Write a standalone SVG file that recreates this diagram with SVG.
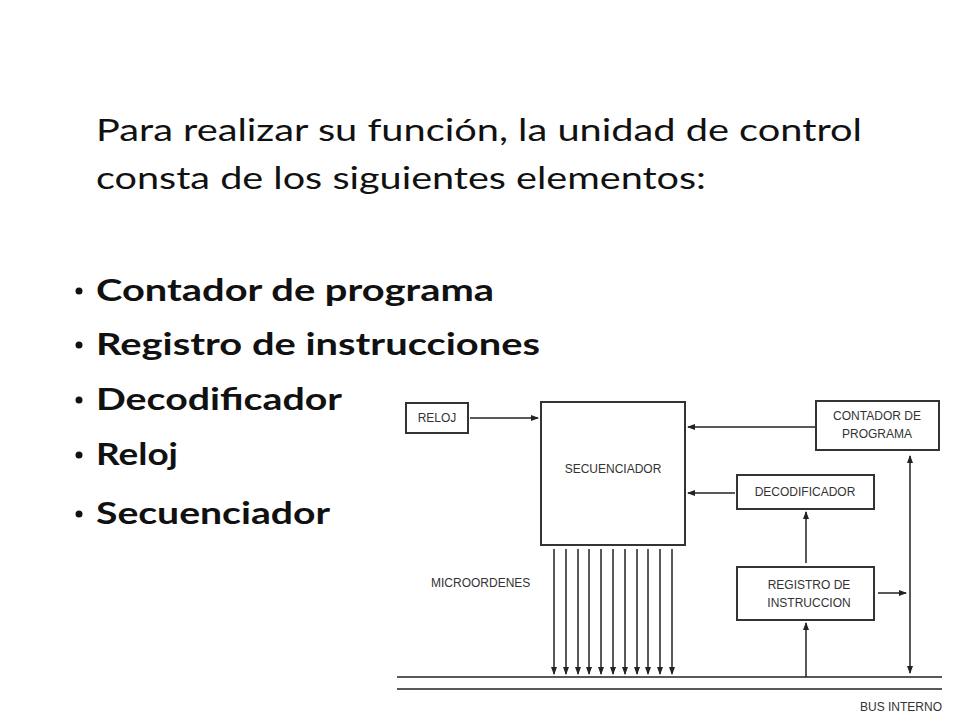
<svg xmlns="http://www.w3.org/2000/svg" width="960" height="720" viewBox="0 0 960 720">
<defs>
<marker id="a" markerWidth="8" markerHeight="8" refX="7" refY="4" orient="auto" markerUnits="userSpaceOnUse"><path d="M0,1 L8,4 L0,7 Z" fill="#222"/></marker>
<marker id="s" markerWidth="8" markerHeight="8" refX="1" refY="4" orient="auto" markerUnits="userSpaceOnUse"><path d="M8,1 L0,4 L8,7 Z" fill="#222"/></marker>
</defs>
<style>
.t{font-family:Lato,"Liberation Sans",sans-serif;font-size:30px;fill:#111}
.b{font-family:Lato,"Liberation Sans",sans-serif;font-size:30px;font-weight:bold;fill:#111}
.d{font-family:"Liberation Sans",Arial,sans-serif;font-size:12px;fill:#333}
.box{fill:#fff;stroke:#333;stroke-width:2}
.c line{stroke:#222;stroke-width:1.5}
</style>
<rect width="960" height="720" fill="#fff"/>
<text class="t" x="96" y="141" textLength="766" lengthAdjust="spacingAndGlyphs">Para realizar su función, la unidad de control</text>
<text class="t" x="96" y="189" textLength="610" lengthAdjust="spacingAndGlyphs">consta de los siguientes elementos:</text>
<g fill="#111">
<circle cx="79" cy="291" r="3.5"/><circle cx="79" cy="345" r="3.5"/><circle cx="79" cy="400" r="3.5"/><circle cx="79" cy="455" r="3.5"/><circle cx="79" cy="514" r="3.5"/>
</g>
<text class="b" x="96" y="301" textLength="398" lengthAdjust="spacingAndGlyphs">Contador de programa</text>
<text class="b" x="96" y="355" textLength="444" lengthAdjust="spacingAndGlyphs">Registro de instrucciones</text>
<text class="b" x="96" y="410" textLength="246" lengthAdjust="spacingAndGlyphs">Decodificador</text>
<text class="b" x="96" y="465" textLength="82" lengthAdjust="spacingAndGlyphs">Reloj</text>
<text class="b" x="96" y="524" textLength="234" lengthAdjust="spacingAndGlyphs">Secuenciador</text>
<g id="reloj"><rect class="box" x="406" y="403" width="62" height="30"/><text class="d" x="437" y="422" text-anchor="middle">RELOJ</text></g>
<g id="secuenciador"><rect class="box" x="541" y="402" width="144" height="143"/><text class="d" x="613" y="473" text-anchor="middle">SECUENCIADOR</text></g>
<g id="contador"><rect class="box" x="816" y="401" width="123" height="49"/><text class="d" x="877" y="420" text-anchor="middle">CONTADOR DE</text><text class="d" x="877" y="438" text-anchor="middle">PROGRAMA</text></g>
<g id="decodificador"><rect class="box" x="737" y="475" width="137" height="34"/><text class="d" x="805" y="496" text-anchor="middle">DECODIFICADOR</text></g>
<g id="registro"><rect class="box" x="737" y="567" width="137" height="53"/><text class="d" x="809" y="589" text-anchor="middle">REGISTRO DE</text><text class="d" x="809" y="607" text-anchor="middle">INSTRUCCION</text></g>
<text class="d" x="431" y="587">MICROORDENES</text>
<text class="d" x="942" y="711" text-anchor="end">BUS INTERNO</text>
<g class="c">
<line x1="470" y1="418" x2="538" y2="418" marker-end="url(#a)"/>
<line x1="815" y1="427" x2="688" y2="427" marker-end="url(#a)"/>
<line x1="735" y1="493" x2="688" y2="493" marker-end="url(#a)"/>
<line x1="806" y1="563" x2="806" y2="512" marker-end="url(#a)"/>
<line x1="806" y1="677" x2="806" y2="623" marker-end="url(#a)"/>
<line x1="878" y1="593" x2="906" y2="593" marker-end="url(#a)"/>
<line x1="910" y1="456" x2="910" y2="673" marker-start="url(#s)" marker-end="url(#a)"/>
<line x1="554" y1="549" x2="554" y2="674" marker-end="url(#a)"/>
<line x1="566" y1="549" x2="566" y2="674" marker-end="url(#a)"/>
<line x1="578" y1="549" x2="578" y2="674" marker-end="url(#a)"/>
<line x1="589" y1="549" x2="589" y2="674" marker-end="url(#a)"/>
<line x1="601" y1="549" x2="601" y2="674" marker-end="url(#a)"/>
<line x1="613" y1="549" x2="613" y2="674" marker-end="url(#a)"/>
<line x1="625" y1="549" x2="625" y2="674" marker-end="url(#a)"/>
<line x1="637" y1="549" x2="637" y2="674" marker-end="url(#a)"/>
<line x1="648" y1="549" x2="648" y2="674" marker-end="url(#a)"/>
<line x1="660" y1="549" x2="660" y2="674" marker-end="url(#a)"/>
<line x1="672" y1="549" x2="672" y2="674" marker-end="url(#a)"/>
<line x1="397" y1="677" x2="942" y2="677"/>
<line x1="397" y1="689" x2="942" y2="689"/>
</g>
</svg>
